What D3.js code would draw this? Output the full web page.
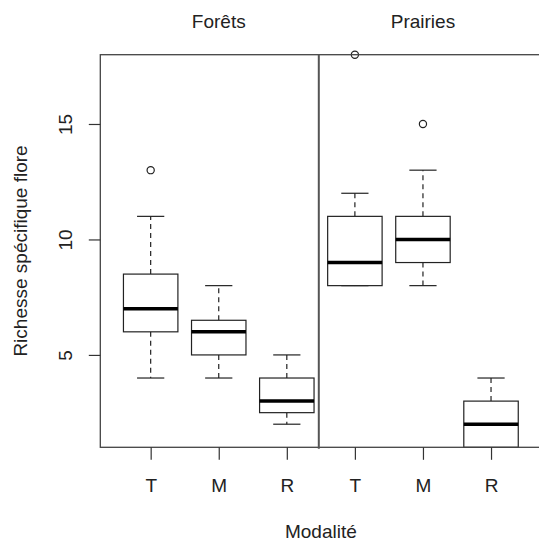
<!DOCTYPE html>
<html>
<head>
<meta charset="utf-8">
<script src="https://cdn.jsdelivr.net/npm/d3@7"></script>
<style>
  body { margin: 0; background: #fff; }
  text { font-family: "Liberation Sans", Arial, sans-serif; fill: #222; }
</style>
</head>
<body>
<div id="chart"></div>
<script>
// boxplot stats, one entry per box (Forêts T M R, Prairies T M R)
const groups = ["Forêts", "Prairies"];
const tickLabels = ["T", "M", "R", "T", "M", "R"];
const whiskerLow = [4, 4, 2, 8, 8, 1];
const boxLow = [6, 5, 2.5, 8, 9, 1];
const medians = [7, 6, 3, 9, 10, 2];
const boxHigh = [8.5, 6.5, 4, 11, 11, 3];
const whiskerHigh = [11, 8, 5, 12, 13, 4];
const outliers = [[13], [], [], [18], [15], []];
const yTicks = [5, 10, 15];

const width = 539, height = 543;
const margin = { top: 54.7, left: 100.3, bottom: 95.7 };

const svg = d3.select("#chart").append("svg")
    .attr("width", width)
    .attr("height", height);

// R boxplot: at = 1..6, xlim extended 4% beyond [0.5, 6.5]
const x = d3.scaleLinear()
    .domain([0.26, 6.74])
    .range([margin.left, 541.4]);

const y = d3.scaleLinear()
    .domain([1, 18])
    .range([height - margin.bottom, margin.top]);

const boxes = tickLabels.map((lab, i) => ({
    pos: i + 1,
    lab,
    wlo: whiskerLow[i],
    q1: boxLow[i],
    med: medians[i],
    q3: boxHigh[i],
    whi: whiskerHigh[i],
    out: outliers[i]
}));

const boxW = x(1.4) - x(1);
const capW = x(1.2) - x(1);

const g = svg.append("g");

// whiskers
g.selectAll(".whisker-lo")
    .data(boxes)
    .enter().append("line")
    .attr("x1", d => x(d.pos)).attr("x2", d => x(d.pos))
    .attr("y1", d => y(d.q1)).attr("y2", d => y(d.wlo))
    .attr("stroke", "#222").attr("stroke-width", 1.2)
    .attr("stroke-dasharray", "5,4");

g.selectAll(".whisker-hi")
    .data(boxes)
    .enter().append("line")
    .attr("x1", d => x(d.pos)).attr("x2", d => x(d.pos))
    .attr("y1", d => y(d.q3)).attr("y2", d => y(d.whi))
    .attr("stroke", "#222").attr("stroke-width", 1.2)
    .attr("stroke-dasharray", "5,4");

// staples
["wlo", "whi"].forEach(k => {
    g.selectAll(".cap-" + k)
        .data(boxes)
        .enter().append("line")
        .attr("x1", d => x(d.pos) - capW).attr("x2", d => x(d.pos) + capW)
        .attr("y1", d => y(d[k])).attr("y2", d => y(d[k]))
        .attr("stroke", "#222").attr("stroke-width", 1.2);
});

// boxes
g.selectAll(".box")
    .data(boxes)
    .enter().append("rect")
    .attr("x", d => x(d.pos) - boxW)
    .attr("width", 2 * boxW)
    .attr("y", d => y(d.q3))
    .attr("height", d => y(d.q1) - y(d.q3))
    .attr("fill", "#fff")
    .attr("stroke", "#222").attr("stroke-width", 1.2);

// medians
g.selectAll(".median")
    .data(boxes)
    .enter().append("line")
    .attr("x1", d => x(d.pos) - boxW).attr("x2", d => x(d.pos) + boxW)
    .attr("y1", d => y(d.med)).attr("y2", d => y(d.med))
    .attr("stroke", "#000").attr("stroke-width", 3.5);

// frame
svg.append("rect")
    .attr("x", x(0.26)).attr("y", y(18))
    .attr("width", x(6.74) - x(0.26))
    .attr("height", y(1) - y(18))
    .attr("fill", "none")
    .attr("stroke", "#444").attr("stroke-width", 1.3);

// separator between the two habitats
svg.append("line")
    .attr("x1", x(3.47)).attr("x2", x(3.47))
    .attr("y1", y(18)).attr("y2", y(1) + 1.5)
    .attr("stroke", "#555").attr("stroke-width", 2);

// outliers
const outPts = boxes.flatMap(d => d.out.map(v => ({ pos: d.pos, v })));
g.selectAll(".outlier")
    .data(outPts)
    .enter().append("circle")
    .attr("cx", d => x(d.pos))
    .attr("cy", d => y(d.v))
    .attr("r", 3.6)
    .attr("fill", "#fff")
    .attr("stroke", "#222").attr("stroke-width", 1.2);

// axes
const xAxis = svg.append("g")
    .attr("transform", `translate(0,${y(1)})`)
    .call(d3.axisBottom(x)
        .tickValues(boxes.map(d => d.pos))
        .tickFormat((d, i) => tickLabels[i])
        .tickSize(12.5));
xAxis.select(".domain").remove();
xAxis.selectAll("line").attr("stroke", "#333").attr("stroke-width", 1.2);
xAxis.selectAll("text")
    .attr("y", 44.4).attr("dy", 0)
    .style("font-size", "19px")
    .style("font-family", "Liberation Sans, Arial, sans-serif")
    .attr("fill", "#222");

const yAxis = svg.append("g")
    .attr("transform", `translate(${x(0.26)},0)`)
    .call(d3.axisLeft(y).tickValues(yTicks).tickSize(11.5));
yAxis.select(".domain").remove();
yAxis.selectAll("line").attr("stroke", "#333").attr("stroke-width", 1.2);
yAxis.selectAll("text")
    .attr("transform", "rotate(-90)")
    .attr("x", 0).attr("y", -28.3).attr("dy", 0)
    .attr("text-anchor", "middle")
    .style("font-size", "19px")
    .style("font-family", "Liberation Sans, Arial, sans-serif")
    .attr("fill", "#222");

// group titles centred over the middle box of each habitat
svg.selectAll(".group-title")
    .data(groups)
    .enter().append("text")
    .attr("x", (d, i) => x(2 + 3 * i))
    .attr("y", 27.5)
    .attr("text-anchor", "middle")
    .style("font-size", "19px")
    .text(d => d);

// axis titles
svg.append("text")
    .attr("x", (x(0.26) + x(6.74)) / 2)
    .attr("y", 537.5)
    .attr("text-anchor", "middle")
    .style("font-size", "19px")
    .text("Modalité");

svg.append("text")
    .attr("transform", `translate(27.3,${(y(1) + y(18)) / 2}) rotate(-90)`)
    .attr("text-anchor", "middle")
    .style("font-size", "19px")
    .text("Richesse spécifique flore");
</script>
</body>
</html>
